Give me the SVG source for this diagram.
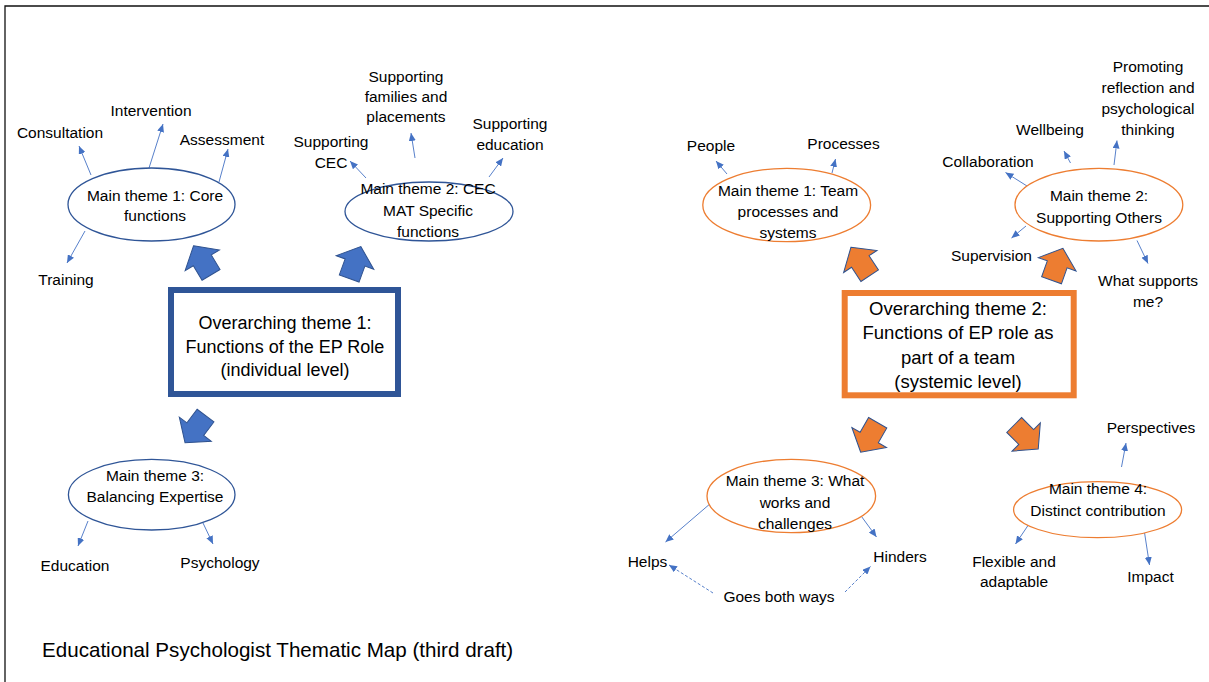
<svg xmlns="http://www.w3.org/2000/svg" xmlns:xlink="http://www.w3.org/1999/xlink" width="1209" height="682" viewBox="0 0 1209 682">
  <style>
    text { font-family: 'Liberation Sans', Arial, sans-serif; fill: #000; text-anchor: middle; }
    .lbl { font-size: 15.5px; }
    .box1 { font-size: 18px; }
    .box2 { font-size: 18.5px; }
    .title { font-size: 20.6px; text-anchor: start; }
    .eb { fill: #fff; stroke: #2F5597; stroke-width: 1.3; }
    .eo { fill: #fff; stroke: #ED7D31; stroke-width: 1.3; }
    .rb { fill: #fff; stroke: #2F5597; stroke-width: 6; }
    .ro { fill: #fff; stroke: #ED7D31; stroke-width: 6; }
    .ab { fill: #4472C4; stroke: #2F528F; stroke-width: 1; }
    .ao { fill: #ED7D31; stroke: #2F528F; stroke-width: 1; }
    .con { stroke: #4472C4; stroke-width: 0.9; fill: none; marker-end: url(#head); }
    .dash { stroke-dasharray: 3 2; }
    .frame { stroke: #111; stroke-width: 1.3; fill: none; }
  </style>
  <defs>
    <marker id="head" markerUnits="userSpaceOnUse" markerWidth="8" markerHeight="7" refX="8" refY="3.5" orient="auto">
      <path d="M0,0 L8,3.5 L0,7 z" fill="#4472C4"/>
    </marker>
    <!-- block arrow pointing up, origin at the middle of the barbs -->
    <polygon id="blk" points="0,-17 20,0 10.5,0 10.5,17 -10.5,17 -10.5,0 -20,0"/>
  </defs>

  <rect width="1209" height="682" fill="#fff"/>
  <path class="frame" d="M5,682 L5,6 L1209,6"/>

  <!-- connectors -->
  <g id="connectors">
    <line class="con" x1="91" y1="175" x2="79" y2="146"/>
    <line class="con" x1="149" y1="168" x2="163" y2="124"/>
    <line class="con" x1="219" y1="182" x2="228" y2="149"/>
    <line class="con" x1="85" y1="231" x2="67" y2="263"/>
    <line class="con" x1="366" y1="178" x2="350" y2="161"/>
    <line class="con" x1="415" y1="158" x2="411" y2="133"/>
    <line class="con" x1="489" y1="177" x2="503" y2="158"/>
    <line class="con" x1="88" y1="521" x2="78" y2="546"/>
    <line class="con" x1="203" y1="523" x2="213" y2="544"/>
    <line class="con" x1="727" y1="174" x2="716" y2="161"/>
    <line class="con" x1="832" y1="173" x2="835.5" y2="159"/>
    <line class="con" x1="1027" y1="186" x2="1005.5" y2="172.5"/>
    <line class="con" x1="1070.5" y1="163" x2="1064" y2="151"/>
    <line class="con" x1="1114" y1="165" x2="1117" y2="140.5"/>
    <line class="con" x1="1026" y1="226" x2="1011.5" y2="238"/>
    <line class="con" x1="1137" y1="240.5" x2="1148" y2="263.5"/>
    <line class="con" x1="711" y1="503" x2="665.5" y2="542"/>
    <line class="con" x1="861.5" y1="516.5" x2="876.5" y2="537"/>
    <line class="con" x1="1121.5" y1="467" x2="1126" y2="443"/>
    <line class="con" x1="1029" y1="524" x2="1015.5" y2="544"/>
    <line class="con" x1="1144.5" y1="532.5" x2="1149.5" y2="565"/>
    <line class="con dash" x1="713" y1="593" x2="669" y2="565"/>
    <line class="con dash" x1="845" y1="592" x2="870.5" y2="566.5"/>
    <!-- block arrows from the overarching themes -->
    <use xlink:href="#blk" class="ab" transform="translate(202.3,260.3) rotate(-31)"/>
    <use xlink:href="#blk" class="ab" transform="translate(355,262.5) rotate(20)"/>
    <use xlink:href="#blk" class="ab" transform="translate(195.3,429.2) rotate(-143)"/>
    <use xlink:href="#blk" class="ao" transform="translate(860.3,261.5) rotate(-33.5)"/>
    <use xlink:href="#blk" class="ao" transform="translate(1057.2,264.3) rotate(19.5)"/>
    <use xlink:href="#blk" class="ao" transform="translate(869.2,437.5) rotate(-150)"/>
    <use xlink:href="#blk" class="ao" transform="translate(1026.2,437) rotate(135)"/>
  </g>

  <!-- overarching theme 1 (individual) -->
  <g id="overarching-1">
    <rect class="rb" x="171" y="290" width="227" height="104"/>
    <text class="box1" x="285" y="329">Overarching theme 1:</text>
    <text class="box1" x="285" y="352.5">Functions of the EP Role</text>
    <text class="box1" x="285" y="376">(individual level)</text>
  </g>

  <g id="core-functions">
    <ellipse class="eb" cx="151.5" cy="204.5" rx="83.5" ry="36.5"/>
    <text class="lbl" x="155" y="200.5">Main theme 1: Core</text>
    <text class="lbl" x="155" y="220.5">functions</text>
  </g>
  <g id="consultation"><text class="lbl" x="60" y="138">Consultation</text></g>
  <g id="intervention"><text class="lbl" x="151" y="116">Intervention</text></g>
  <g id="assessment"><text class="lbl" x="222" y="145">Assessment</text></g>
  <g id="training"><text class="lbl" x="66" y="285">Training</text></g>

  <g id="cec-mat">
    <ellipse class="eb" cx="429" cy="211.5" rx="84" ry="29.5"/>
    <text class="lbl" x="428" y="193.5">Main theme 2: CEC</text>
    <text class="lbl" x="428" y="215.5">MAT Specific</text>
    <text class="lbl" x="428" y="237">functions</text>
  </g>
  <g id="supporting-cec">
    <text class="lbl" x="331" y="147">Supporting</text>
    <text class="lbl" x="331" y="168">CEC</text>
  </g>
  <g id="supporting-families">
    <text class="lbl" x="406" y="81.5">Supporting</text>
    <text class="lbl" x="406" y="102">families and</text>
    <text class="lbl" x="406" y="122">placements</text>
  </g>
  <g id="supporting-education">
    <text class="lbl" x="510" y="128.5">Supporting</text>
    <text class="lbl" x="510" y="149.5">education</text>
  </g>

  <g id="balancing-expertise">
    <ellipse class="eb" cx="151.7" cy="494.7" rx="83.3" ry="35.3"/>
    <text class="lbl" x="155" y="480.5">Main theme 3:</text>
    <text class="lbl" x="155" y="501.5">Balancing Expertise</text>
  </g>
  <g id="education"><text class="lbl" x="75" y="571">Education</text></g>
  <g id="psychology"><text class="lbl" x="220" y="568">Psychology</text></g>

  <!-- overarching theme 2 (systemic) -->
  <g id="overarching-2">
    <rect class="ro" x="844.7" y="293" width="229" height="102.3"/>
    <text class="box2" x="958" y="314.5">Overarching theme 2:</text>
    <text class="box2" x="958" y="339">Functions of EP role as</text>
    <text class="box2" x="958" y="363.5">part of a team</text>
    <text class="box2" x="958" y="388">(systemic level)</text>
  </g>

  <g id="team-processes">
    <ellipse class="eo" cx="786.7" cy="205" rx="83.9" ry="36.7"/>
    <text class="lbl" x="788" y="195.5">Main theme 1: Team</text>
    <text class="lbl" x="788" y="216.5">processes and</text>
    <text class="lbl" x="788" y="238">systems</text>
  </g>
  <g id="people"><text class="lbl" x="711" y="151">People</text></g>
  <g id="processes"><text class="lbl" x="843.5" y="149">Processes</text></g>

  <g id="supporting-others">
    <ellipse class="eo" cx="1098.9" cy="204.7" rx="83.9" ry="36.3"/>
    <text class="lbl" x="1099" y="201">Main theme 2:</text>
    <text class="lbl" x="1099" y="222.5">Supporting Others</text>
  </g>
  <g id="collaboration"><text class="lbl" x="988" y="167">Collaboration</text></g>
  <g id="wellbeing"><text class="lbl" x="1050" y="135">Wellbeing</text></g>
  <g id="promoting-reflection">
    <text class="lbl" x="1148" y="71.5">Promoting</text>
    <text class="lbl" x="1148" y="92.5">reflection and</text>
    <text class="lbl" x="1148" y="113.5">psychological</text>
    <text class="lbl" x="1148" y="135">thinking</text>
  </g>
  <g id="supervision"><text class="lbl" x="991.5" y="260.5">Supervision</text></g>
  <g id="what-supports-me">
    <text class="lbl" x="1148" y="285.5">What supports</text>
    <text class="lbl" x="1148" y="306.5">me?</text>
  </g>

  <g id="what-works">
    <ellipse class="eo" cx="791.3" cy="496" rx="84.3" ry="36.7"/>
    <text class="lbl" x="795" y="485.5">Main theme 3: What</text>
    <text class="lbl" x="795" y="508">works and</text>
    <text class="lbl" x="795" y="528.5">challenges</text>
  </g>
  <g id="helps"><text class="lbl" x="647.5" y="566.5">Helps</text></g>
  <g id="hinders"><text class="lbl" x="900" y="562">Hinders</text></g>
  <g id="goes-both-ways"><text class="lbl" x="779" y="601.5">Goes both ways</text></g>

  <g id="distinct-contribution">
    <ellipse class="eo" cx="1097.6" cy="509.7" rx="84" ry="28"/>
    <text class="lbl" x="1098" y="493.5">Main theme 4:</text>
    <text class="lbl" x="1098" y="515.5">Distinct contribution</text>
  </g>
  <g id="perspectives"><text class="lbl" x="1151" y="433">Perspectives</text></g>
  <g id="flexible">
    <text class="lbl" x="1014" y="566.5">Flexible and</text>
    <text class="lbl" x="1014" y="587">adaptable</text>
  </g>
  <g id="impact"><text class="lbl" x="1150.5" y="582">Impact</text></g>

  <text class="title" x="42" y="657">Educational Psychologist Thematic Map (third draft)</text>
</svg>
